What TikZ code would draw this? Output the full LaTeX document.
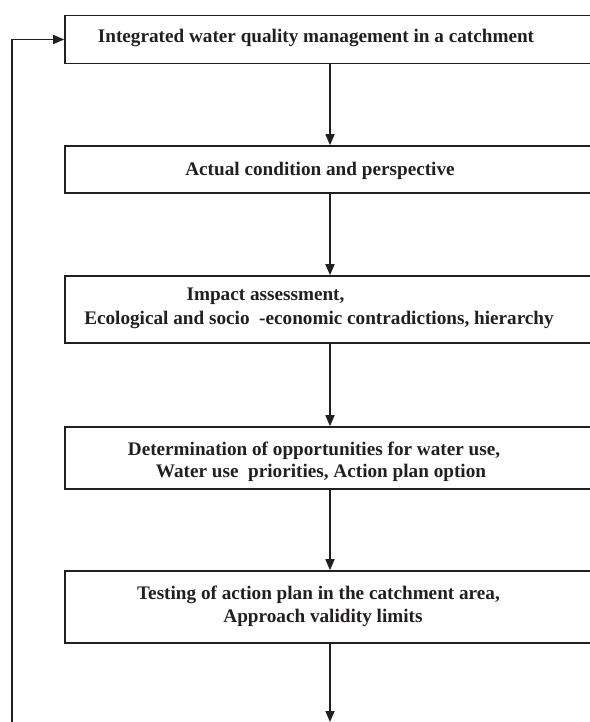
\documentclass[tikz,border=0pt]{standalone}
\usepackage{fontspec}
\setmainfont{Liberation Serif}
\usetikzlibrary{arrows.meta}
\definecolor{ink}{HTML}{231F20}
\begin{document}
\begin{tikzpicture}[x=1pt,y=-1pt,
  box/.style={draw=ink, line width=1.6pt, rectangle, minimum width=527pt, inner sep=0pt},
  txt/.style={anchor=base, inner sep=0pt, font=\fontsize{19.2}{22}\selectfont\bfseries, text=ink},
  arr/.style={draw=ink, line width=1.6pt, -{Triangle[length=11pt,width=9pt]}}]
\useasboundingbox (0,0) rectangle (589,722);
\coordinate (ax) at (330,0);
\node[box, minimum height=48pt] (b1) at (328.5,39.5) {};
\node[box, minimum height=47pt] (b2) at (328.5,169.5) {};
\node[box, minimum height=67pt] (b3) at (328.5,309.5) {};
\node[box, minimum height=62pt] (b4) at (328.5,458) {};
\node[box, minimum height=72pt] (b5) at (328.5,607) {};
\node[txt] (t1) at (316,43) {Integrated water quality management in a catchment};
\node[txt] (t2) at (320,175.5) {Actual condition and perspective};
\node[txt] (t3a) at (265.5,300) {Impact assessment,};
\node[txt] (t3b) at (319,324) {Ecological and socio\ \ -economic contradictions, hierarchy};
\node[txt] (t4a) at (314,455) {Determination of opportunities for water use,};
\node[txt] (t4b) at (321,477) {Water use\ \ priorities, Action plan option};
\node[txt] (t5a) at (318.5,599) {Testing of action plan in the catchment area,};
\node[txt] (t5b) at (323,622.5) {Approach validity limits};
\coordinate (bend) at (330,722);
\coordinate (fb) at (12,722);
\draw[arr] (b1.south -| ax) -- (b2.north -| ax);
\draw[arr] (b2.south -| ax) -- (b3.north -| ax);
\draw[arr] (b3.south -| ax) -- (b4.north -| ax);
\draw[arr] (b4.south -| ax) -- (b5.north -| ax);
\draw[arr] (b5.south -| ax) -- (bend);
\draw[arr] (fb) |- (b1.west);
\end{tikzpicture}
\end{document}
